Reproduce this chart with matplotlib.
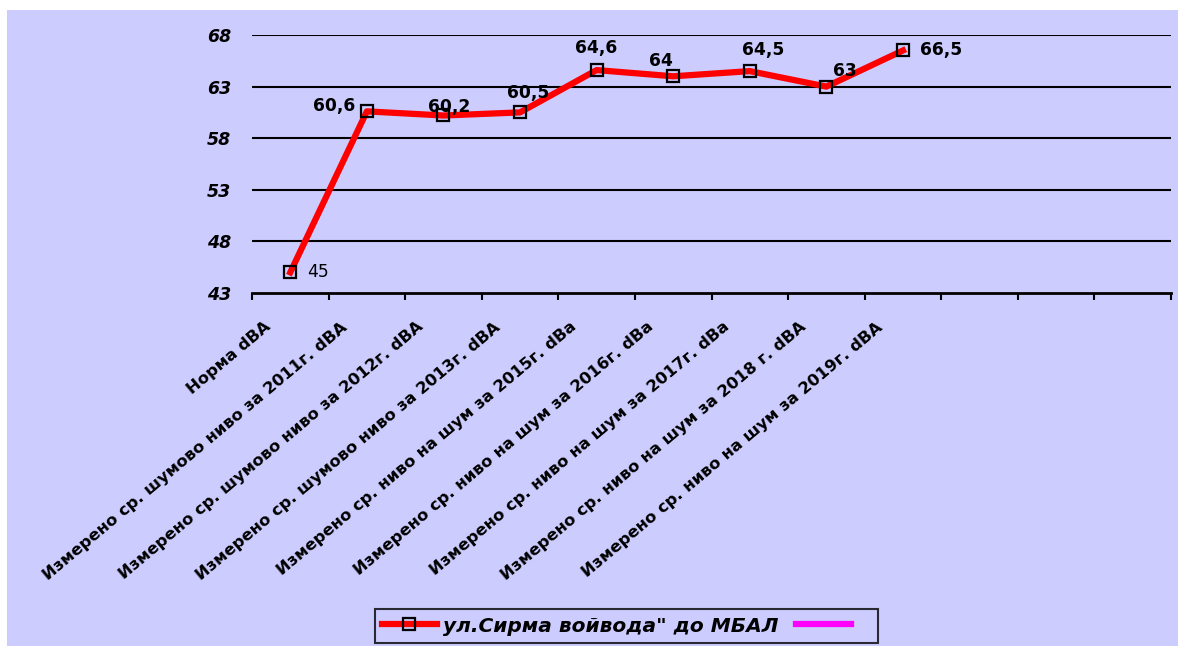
import matplotlib
matplotlib.use("Agg")
import matplotlib.pyplot as plt
from matplotlib.patches import Rectangle
from matplotlib.lines import Line2D
from matplotlib.transforms import ScaledTranslation

plt.rcParams['font.family'] = ['DejaVu Sans']

categories = [
    "Норма dBA",
    "Измерено ср. шумово ниво за 2011г. dBA",
    "Измерено ср. шумово ниво за 2012г. dBA",
    "Измерено ср. шумово ниво за 2013г. dBA",
    "Измерено ср. ниво на шум за 2015г. dBa",
    "Измерено ср. ниво на шум за 2016г. dBa",
    "Измерено ср. ниво на шум за 2017г. dBa",
    "Измерено ср. ниво на шум за 2018 г. dBA",
    "Измерено ср. ниво на шум за 2019г. dBA",
]
n_slots = 12
values = [45, 60.6, 60.2, 60.5, 64.6, 64, 64.5, 63, 66.5]
value_labels = ["45", "60,6", "60,2", "60,5", "64,6", "64", "64,5", "63", "66,5"]
series_name = "ул.Сирма войвода\" до МБАЛ"
yticks = [43, 48, 53, 58, 63, 68]

# label offsets in pixels (dx, dy, ha, weight)
label_style = [
    (17, 0, 'left', 'normal'),
    (-12, 5, 'right', 'bold'),
    (6, 8, 'center', 'bold'),
    (8, 19, 'center', 'bold'),
    (0, 22, 'center', 'bold'),
    (-12, 15, 'center', 'bold'),
    (13, 21, 'center', 'bold'),
    (19, 16, 'center', 'bold'),
    (17, 0, 'left', 'bold'),
]

BG = '#CCCCFF'
W, H = 1178, 646
fig = plt.figure(figsize=(W / 100, H / 100), dpi=100, facecolor='white')
fig.patches.append(Rectangle((7 / W, 0), 1 - 7 / W, 1 - 10 / H, transform=fig.transFigure,
                             facecolor=BG, edgecolor='none', zorder=-10))

ax = fig.add_axes([252 / W, 1 - 293 / H, (1171 - 252) / W, (293 - 35) / H])
ax.set_zorder(5)
ax.set_facecolor(BG)
ax.set_xlim(0, n_slots)
ax.set_ylim(43, 68)

xs = [i + 0.5 for i in range(len(values))]
ax.plot(xs, values, color='#FF0000', lw=4.5, marker='s', ms=9, mfc='none',
        mec='black', mew=1.6, zorder=3, solid_joinstyle='round')

for x, v, lab, (dx, dy, ha, wt) in zip(xs, values, value_labels, label_style):
    ax.annotate(lab, (x, v), xytext=(dx, dy), textcoords='offset pixels',
                ha=ha, va='center', fontsize=12.3, fontweight=wt, color='black', zorder=4)

for y in yticks[1:]:
    ax.axhline(y, color='black', lw=1.5, zorder=1)

for s in ['left', 'right', 'top']:
    ax.spines[s].set_visible(False)
ax.spines['bottom'].set_linewidth(2)
ax.spines['bottom'].set_color('black')

ax.set_yticks(yticks)
ax.set_yticklabels([str(t) for t in yticks], fontsize=12.5, fontweight='bold', fontstyle='italic')
ax.tick_params(axis='y', length=0, pad=15)

ax.set_xticks(range(n_slots + 1))
ax.set_xticklabels([])
ax.tick_params(axis='x', which='major', length=5, width=1.5, direction='out')
ax.set_xticks(xs, minor=True)
ax.set_xticklabels(categories, minor=True, rotation=40, ha='right', va='center',
                   rotation_mode='anchor', fontsize=11.8, fontweight='bold')
ax.tick_params(axis='x', which='minor', length=0, pad=0)
shift = ScaledTranslation(-0.22, -0.32, fig.dpi_scale_trans)
for lbl in ax.get_xticklabels(minor=True):
    lbl.set_transform(lbl.get_transform() + shift)

h1 = Line2D([], [], color='#FF0000', lw=4.5, marker='s', ms=9, mfc='none', mec='black', mew=1.6)
h2 = Line2D([], [], color='#FF00FF', lw=4.5)
leg = fig.legend([h1, h2], [series_name, '  '], ncol=2, loc='center',
                 bbox_to_anchor=(626.5 / W, 1 - 626 / H), frameon=True, fancybox=False,
                 facecolor=BG, edgecolor='black', handlelength=2.7, handletextpad=0.3,
                 columnspacing=0.9, prop={'size': 14.5, 'weight': 'bold', 'style': 'italic'},
                 borderpad=0.35)
leg.get_frame().set_linewidth(1.5)

fig.savefig('out.png', dpi=100, facecolor=fig.get_facecolor())
